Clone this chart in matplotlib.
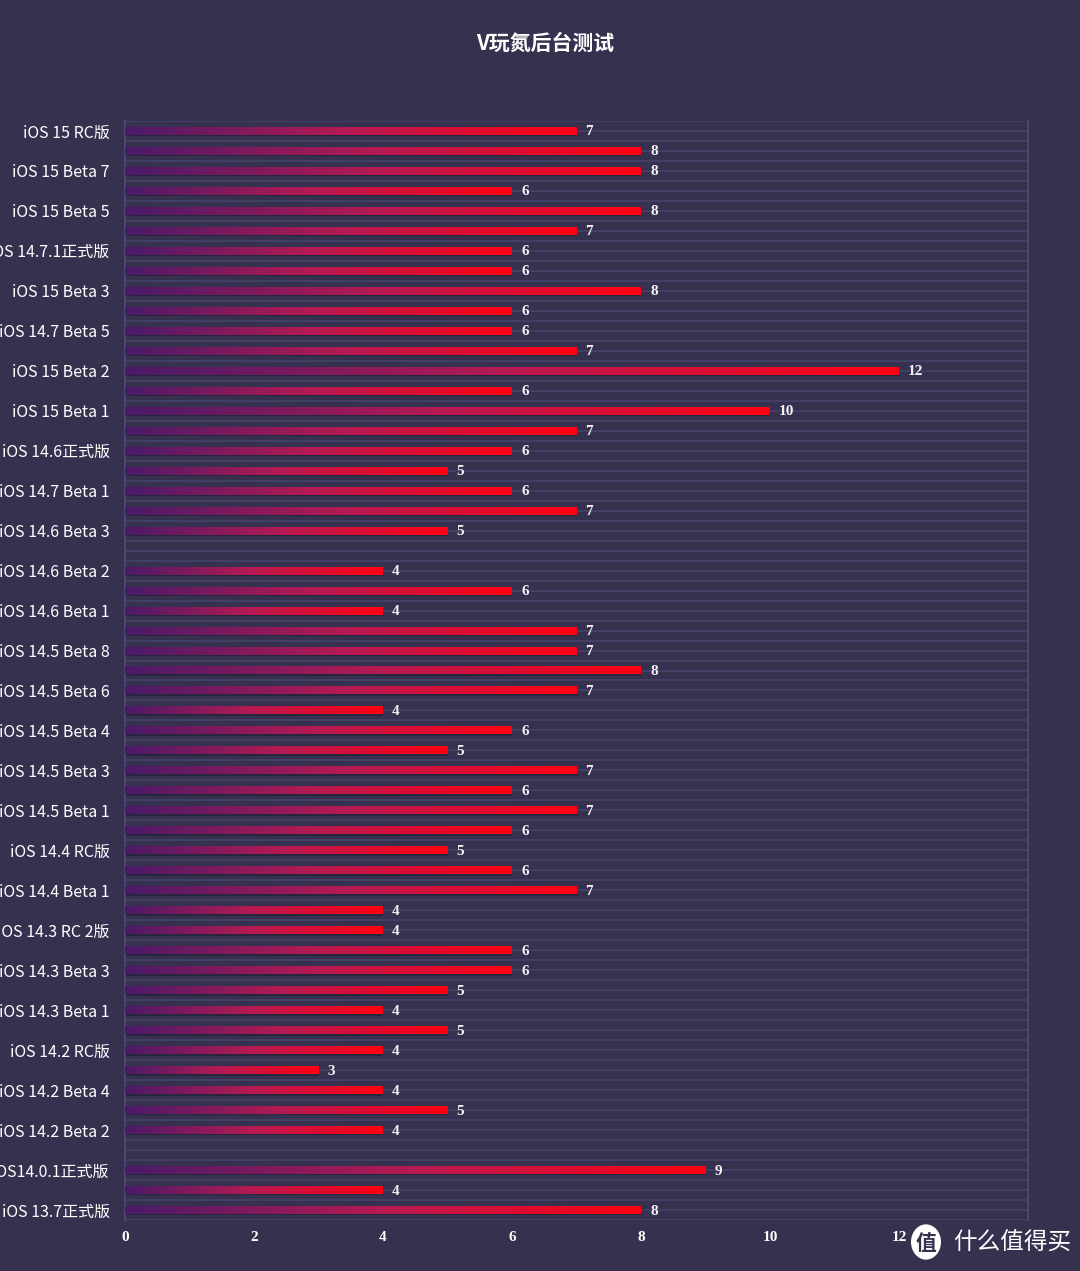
import matplotlib.pyplot as plt
import numpy as np
from matplotlib.colors import LinearSegmentedColormap
from matplotlib.patches import Circle

plt.rcParams['font.family'] = ['Noto Sans CJK SC', 'DejaVu Sans']

# categories top -> bottom; only every other one is labelled in the chart
labels = ["iOS 15 RC版", "", "iOS 15 Beta 7", "", "iOS 15 Beta 5", "",
          "iOS 14.7.1正式版", "", "iOS 15 Beta 3", "", "iOS 14.7 Beta 5", "",
          "iOS 15 Beta 2", "", "iOS 15 Beta 1", "", "iOS 14.6正式版", "",
          "iOS 14.7 Beta 1", "", "iOS 14.6 Beta 3", "", "iOS 14.6 Beta 2", "",
          "iOS 14.6 Beta 1", "", "iOS 14.5 Beta 8", "", "iOS 14.5 Beta 6", "",
          "iOS 14.5 Beta 4", "", "iOS 14.5 Beta 3", "", "iOS 14.5 Beta 1", "",
          "iOS 14.4 RC版", "", "iOS 14.4 Beta 1", "", "iOS 14.3 RC 2版", "",
          "iOS 14.3 Beta 3", "", "iOS 14.3 Beta 1", "", "iOS 14.2 RC版", "",
          "iOS 14.2 Beta 4", "", "iOS 14.2 Beta 2", "", "iOS14.0.1正式版", "",
          "iOS 13.7正式版"]
values = [7, 8, 8, 6, 8, 7, 6, 6, 8, 6,
          6, 7, 12, 6, 10, 7, 6, 5, 6, 7,
          5, None, 4, 6, 4, 7, 7, 8, 7, 4,
          6, 5, 7, 6, 7, 6, 5, 6, 7, 4,
          4, 6, 6, 5, 4, 5, 4, 3, 4, 5,
          4, None, 9, 4, 8]
xticks = [0, 2, 4, 6, 8, 10, 12]

bg = '#35314f'
grid_c = '#45426a'
cmap = LinearSegmentedColormap.from_list('bar', ['#4a1a68', '#b81a52', '#ff0012'])

fig = plt.figure(figsize=(10.8, 12.71), dpi=100, facecolor=bg)
ax = fig.add_axes([125 / 1080, 1 - 1220 / 1271, 903 / 1080, 1099 / 1271])
ax.set_facecolor(bg)

n = len(values)
ax.set_xlim(0, 14)
ax.set_ylim(n - 0.5, -0.5)

# horizontal lines at every half category
for y in np.arange(-0.5, n, 0.5):
    ax.axhline(y, color=grid_c, lw=1.2, zorder=1)

grad = np.linspace(0, 1, 256).reshape(1, -1)
h = 0.2
for i, v in enumerate(values):
    if v is None:
        continue
    # shadow
    ax.barh(i + 0.07, v, height=2 * h, color='#1c1a30', alpha=0.5, zorder=2)
    ax.imshow(grad, cmap=cmap, aspect='auto', extent=[0, v, i + h, i - h],
              zorder=3, interpolation='bilinear')
    ax.text(v + 0.14, i + 0.05, str(v), color='#f2f2f2', fontsize=11,
            family='Liberation Serif', fontweight='bold', va='center', ha='left', zorder=4)

ax.set_yticks(range(n))
ax.set_yticklabels(labels, fontsize=11.5, color='white', fontweight='medium')
ax.set_xticks(xticks)
ax.set_xticklabels([str(t) for t in xticks], fontsize=11, color='white',
                   family='Liberation Serif', fontweight='bold')
ax.tick_params(axis='y', length=0, pad=11)
ax.tick_params(axis='x', length=0, pad=8)

for s in ['top', 'bottom']:
    ax.spines[s].set_visible(False)
ax.spines['left'].set_color('#4a4870')
ax.spines['right'].set_color('#4a4870')
ax.spines['left'].set_linewidth(1.5)
ax.spines['right'].set_linewidth(1.5)

fig.text(545 / 1080, 1 - 43 / 1271, 'V玩氮后台测试', color='white', fontsize=15,
         ha='center', va='center', fontweight='bold')

# watermark
fig.patches.append(Circle((926 / 1080, 1 - 1242 / 1271), 15 / 1080, transform=fig.transFigure,
                          facecolor='white', edgecolor='none'))
fig.text(926 / 1080, 1 - 1243 / 1271, '值', color=bg, fontsize=15, fontweight='bold',
         ha='center', va='center')
fig.text(953 / 1080, 1 - 1243 / 1271, '什么值得买', color='white', fontsize=17,
         ha='left', va='center')

fig.savefig('out.png', dpi=100, facecolor=bg)
